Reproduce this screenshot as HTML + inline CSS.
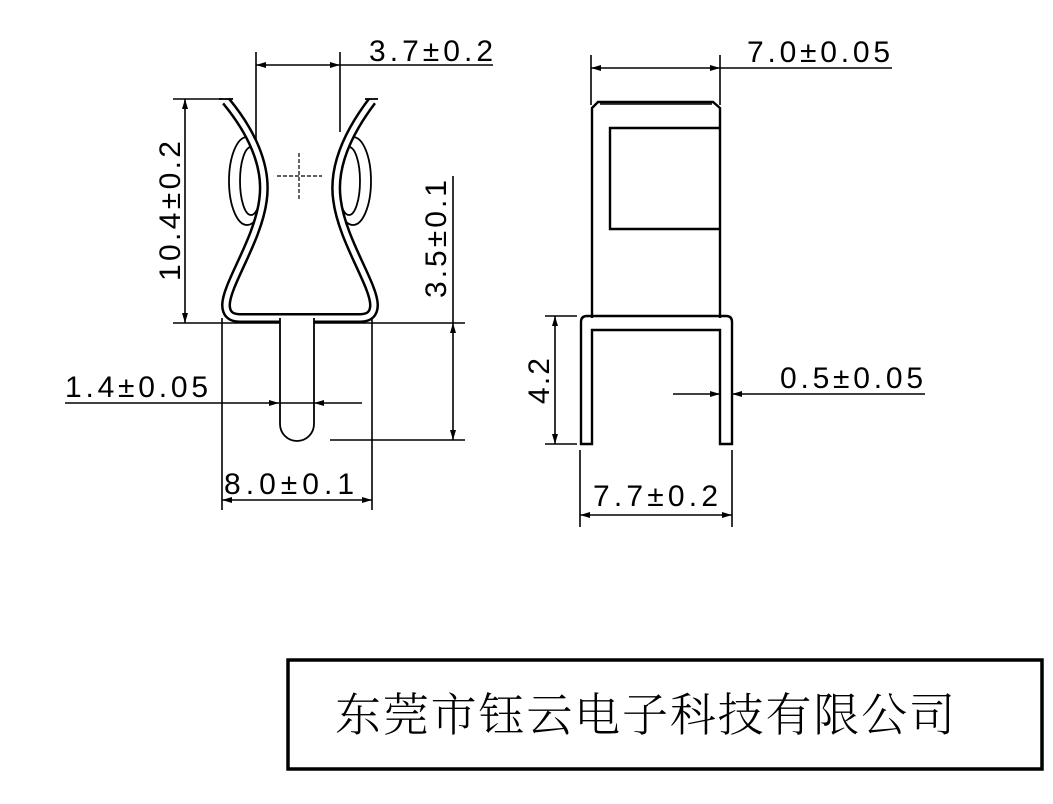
<!DOCTYPE html>
<html><head><meta charset="utf-8"><style>
html,body{margin:0;padding:0;background:#fff;}
svg{display:block;}
.t{font-family:"Liberation Sans",sans-serif;font-size:30px;fill:#000;}
</style></head><body>
<svg width="1053" height="804" viewBox="0 0 1053 804" xmlns="http://www.w3.org/2000/svg">
<defs>
<marker id="a" viewBox="0 0 10 6" refX="10" refY="3" markerWidth="20" markerHeight="6" markerUnits="userSpaceOnUse" orient="auto-start-reverse"><path d="M0 0 L10 3 L0 6 Z" fill="#000"/></marker>
</defs>
<g stroke="#000" stroke-width="1.6" fill="none">
<line x1="256" y1="52" x2="256" y2="150"/>
<line x1="340" y1="52" x2="340" y2="132"/>
<line x1="256" y1="65" x2="340" y2="65" marker-start="url(#a)" marker-end="url(#a)"/>
<line x1="340" y1="65" x2="493" y2="65"/>
<line x1="173" y1="99" x2="222" y2="99"/>
<line x1="185" y1="99" x2="185" y2="323" marker-start="url(#a)" marker-end="url(#a)"/>
<line x1="173" y1="323" x2="465" y2="323"/>
<line x1="453" y1="176" x2="453" y2="323"/>
<line x1="453" y1="323" x2="453" y2="440" marker-start="url(#a)" marker-end="url(#a)"/>
<line x1="330" y1="440" x2="465" y2="440"/>
<line x1="222" y1="318" x2="222" y2="510"/>
<line x1="372" y1="318" x2="372" y2="510"/>
<line x1="222" y1="500" x2="372" y2="500" marker-start="url(#a)" marker-end="url(#a)"/>
<line x1="65" y1="403" x2="279" y2="403" marker-end="url(#a)"/>
<line x1="362" y1="403" x2="314" y2="403" marker-end="url(#a)"/>
</g>
<g fill="none" stroke="#000" stroke-width="1.8">
<ellipse cx="247" cy="181" rx="18" ry="44"/>
<ellipse cx="251" cy="181" rx="11" ry="34"/>
<ellipse cx="353" cy="181" rx="18" ry="44"/>
<ellipse cx="349" cy="181" rx="11" ry="34"/>
</g>
<path d="M226 101 C250 130,268 165,263 200 C258 240,226 285,226 305 Q226 318,240 318 L360 318 Q374 318,374 305 C374 285,342 240,337 200 C332 165,350 130,372 101" fill="none" stroke="#000" stroke-width="10"/>
<path d="M226 101 C250 130,268 165,263 200 C258 240,226 285,226 305 Q226 318,240 318 L360 318 Q374 318,374 305 C374 285,342 240,337 200 C332 165,350 130,372 101" fill="none" stroke="#fff" stroke-width="5"/>
<g stroke="#000" stroke-width="1.8">
<line x1="219" y1="99" x2="233" y2="99"/>
<line x1="365" y1="99" x2="378" y2="99"/>
</g>
<path d="M280 318 L280 424 A17 17 0 0 0 314 424 L314 318" fill="#fff" stroke="#000" stroke-width="1.8"/>
<line x1="280" y1="403" x2="314" y2="403" stroke="#000" stroke-width="1.6"/>
<g stroke="#000" stroke-width="1.2" stroke-dasharray="4 2">
<line x1="277" y1="176" x2="322" y2="176"/>
<line x1="299" y1="153" x2="299" y2="199"/>
</g>
<text class="t" x="369" y="61" textLength="124">3.7±0.2</text>
<text class="t" x="65" y="397" textLength="143">1.4±0.05</text>
<text class="t" x="224" y="494" textLength="130">8.0±0.1</text>
<text class="t" transform="translate(180,281) rotate(-90)" textLength="140">10.4±0.2</text>
<text class="t" transform="translate(446,298) rotate(-90)" textLength="118">3.5±0.1</text>

<g stroke="#000" stroke-width="1.6" fill="none">
<line x1="591" y1="55" x2="591" y2="105"/>
<line x1="720" y1="55" x2="720" y2="105"/>
<line x1="591" y1="68" x2="720" y2="68" marker-start="url(#a)" marker-end="url(#a)"/>
<line x1="720" y1="68" x2="892" y2="68"/>
<line x1="545" y1="316" x2="577" y2="316"/>
<line x1="545" y1="444" x2="577" y2="444"/>
<line x1="555" y1="316" x2="555" y2="444" marker-start="url(#a)" marker-end="url(#a)"/>
<line x1="673" y1="394" x2="720" y2="394" marker-end="url(#a)"/>
<line x1="925" y1="394" x2="732" y2="394" marker-end="url(#a)"/>
<line x1="580" y1="450" x2="580" y2="527"/>
<line x1="732" y1="450" x2="732" y2="527"/>
<line x1="580" y1="515" x2="732" y2="515" marker-start="url(#a)" marker-end="url(#a)"/>
</g>
<g stroke="#000" stroke-width="2.4" fill="none">
<path d="M592 318 L592 108 L598 102 L713 102 L720 108 L720 318"/>
<line x1="600" y1="104" x2="712" y2="104" stroke-width="1.5"/>
<path d="M720 128 L610 128 L610 229 L720 229"/>
<path d="M581 444 L581 322 Q581 316 587 316 L726 316 Q732 316 732 322 L732 444 L720 444 L720 330 L592 330 L592 444 Z"/>
</g>
<text class="t" x="747" y="62" textLength="143">7.0±0.05</text>
<text class="t" x="780" y="388" textLength="143">0.5±0.05</text>
<text class="t" x="593" y="506" textLength="125">7.7±0.2</text>
<text class="t" transform="translate(549,404) rotate(-90)" textLength="46">4.2</text>

<rect x="288" y="660" width="754" height="109" fill="none" stroke="#000" stroke-width="3.5"/>
<text x="335" y="731" textLength="620" style="font-family:'Liberation Serif','Noto Serif CJK SC',serif;font-size:46px;font-weight:300;" fill="#000">东莞市钰云电子科技有限公司</text>
</svg>
</body></html>
